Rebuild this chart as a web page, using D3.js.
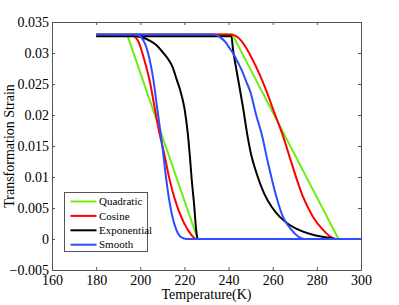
<!DOCTYPE html>
<html>
<head>
<meta charset="utf-8">
<script src="https://cdn.jsdelivr.net/npm/d3@7"></script>
<style>
  body { margin: 0; background: #fff; }
  svg text { font-family: 'Liberation Serif', 'Times New Roman', serif; fill: #000; }
  .axis path, .axis line { stroke: #555; }
  .curve { fill: none; stroke-width: 2; }
</style>
</head>
<body>
<svg id="chart" width="399" height="305"></svg>
<script>
// tick values / labels
const xTicks = [160, 180, 200, 220, 240, 260, 280, 300];
const yTicks = [-0.005, 0, 0.005, 0.01, 0.015, 0.02, 0.025, 0.03, 0.035];
const yTickLabels = ['\u22120.005', '0', '0.005', '0.01', '0.015', '0.02', '0.025', '0.03', '0.035'];

// series names + colours (legend order = draw order)
const seriesNames = ['Quadratic', 'Cosine', 'Exponential', 'Smooth'];
const seriesColors = ['#6cef0e', '#ff0000', '#000000', '#2d4cff'];

// [temperature, strain]; cooling and heating branch of each loop
const quadCool = [[194, 0.0330], [226, 0], [300, 0]];
const quadHeat = [[180, 0.0330], [241.7, 0.0330], [289.8, 0], [300, 0]];

const cosCool = [[195.8, 0.0330], [198.9, 0.0320], [201.9, 0.0288], [204.2, 0.0256], [206.5, 0.0212],
  [208.6, 0.0172], [210.7, 0.0140], [213.2, 0.0097], [215.5, 0.0066], [217.8, 0.0042],
  [221.5, 0.0015], [225.5, 0], [300, 0]];
const cosHeat = [[180, 0.0330], [240.5, 0.0330], [243, 0.0328], [245.7, 0.0320], [248, 0.0308],
  [250.5, 0.0292], [254, 0.0266], [257, 0.0240], [260.5, 0.0206], [264.3, 0.0170], [268.4, 0.0124],
  [273.6, 0.0069], [278.2, 0.0036], [282.7, 0.0015], [286, 0.0004], [288.8, 0], [300, 0]];

const expCool = [[198.1, 0.0327], [201, 0.0325], [204.2, 0.0320], [207.5, 0.0312], [210.2, 0.0301],
  [213.2, 0.0287], [214.7, 0.0277], [216.5, 0.0257], [218, 0.0241], [220, 0.0211], [221.5, 0.0171],
  [222.5, 0.0132], [223.3, 0.0096], [224.4, 0.0055], [225.3, 0.0015], [226, 0], [300, 0]];
const expHeat = [[180, 0.0327], [241.3, 0.0327], [242, 0.0306], [243.2, 0.0280], [244.7, 0.0250],
  [246.5, 0.0213], [248.4, 0.0170], [250.3, 0.0135], [252.5, 0.0108], [256.3, 0.0072],
  [259.5, 0.0052], [263.1, 0.0036], [267.5, 0.0023], [272.9, 0.0013], [279, 0.0006],
  [285.5, 0.0002], [288.5, 0], [300, 0]];

const smoothCool = [[198, 0.0330], [200.5, 0.0325], [202.5, 0.0312], [204.2, 0.0290], [205.8, 0.0260],
  [207.5, 0.0215], [209.2, 0.0171], [210.5, 0.0135], [211.7, 0.0098], [213, 0.0065],
  [214.3, 0.0040], [216.3, 0.0015], [218.5, 0.0003], [221, 0], [300, 0]];
const smoothHeat = [[180, 0.0330], [233, 0.0330], [235, 0.0328], [236.7, 0.0324], [238.5, 0.0318],
  [240.4, 0.0308], [242.3, 0.0298], [244.2, 0.0285], [246, 0.0272], [248, 0.0254], [250, 0.0236],
  [252.5, 0.0200], [254.8, 0.0172], [257.8, 0.0124], [261.6, 0.0069], [264.6, 0.0036],
  [268.4, 0.0015], [271.5, 0.0004], [274.5, 0], [300, 0]];

const branches = [
  [quadCool, quadHeat],
  [cosCool, cosHeat],
  [expCool, expHeat],
  [smoothCool, smoothHeat]
];

const margin = {top: 22, right: 38, bottom: 35, left: 52};
const width = 399 - margin.left - margin.right;
const height = 305 - margin.top - margin.bottom;

const svg = d3.select('#chart');
const g = svg.append('g')
  .attr('transform', `translate(${margin.left}, ${margin.top})`);

const x = d3.scaleLinear().domain([160, 300]).range([0, width]);
const y = d3.scaleLinear().domain([-0.005, 0.035]).range([height, 0]);

// axes, ticks pointing inwards on all four sides
g.append('g')
  .attr('class', 'axis')
  .attr('transform', `translate(0, ${height})`)
  .call(d3.axisBottom(x).tickValues(xTicks).tickSize(-3).tickSizeOuter(0).tickPadding(5).tickFormat(d3.format('d')));

g.append('g')
  .attr('class', 'axis')
  .call(d3.axisTop(x).tickValues(xTicks).tickSize(-3).tickSizeOuter(0).tickFormat(''));

g.append('g')
  .attr('class', 'axis')
  .call(d3.axisLeft(y).tickValues(yTicks).tickSize(-3).tickSizeOuter(0).tickPadding(3)
    .tickFormat((d, i) => yTickLabels[i]));

g.append('g')
  .attr('class', 'axis')
  .attr('transform', `translate(${width}, 0)`)
  .call(d3.axisRight(y).tickValues(yTicks).tickSize(-3).tickSizeOuter(0).tickFormat(''));

g.selectAll('.axis')
  .attr('font-family', null)
  .attr('font-size', 14);
g.selectAll('.axis text').attr('fill', '#000');

// curves
const lineSmooth = d3.line().x(d => x(d[0])).y(d => y(d[1])).curve(d3.curveMonotoneX);
const lineStraight = d3.line().x(d => x(d[0])).y(d => y(d[1]));

const plot = g.append('g');
branches.forEach((pair, i) => {
  const gen = i === 0 ? lineStraight : lineSmooth;
  pair.forEach(pts => {
    plot.append('path')
      .attr('class', 'curve')
      .attr('d', gen(pts))
      .attr('stroke', seriesColors[i]);
  });
});

// axis titles
g.append('text')
  .attr('x', width / 2)
  .attr('y', height + 28.5)
  .attr('text-anchor', 'middle')
  .attr('font-size', 14)
  .text('Temperature(K)');

g.append('text')
  .attr('transform', `translate(${-38}, ${height / 2}) rotate(-90)`)
  .attr('text-anchor', 'middle')
  .attr('font-size', 14)
  .text('Transformation Strain');

// legend
const legend = g.append('g')
  .attr('transform', `translate(12.5, 170.5)`);

legend.append('rect')
  .attr('width', 83)
  .attr('height', 59)
  .attr('fill', '#fff')
  .attr('stroke', '#555');

seriesNames.forEach((name, i) => {
  const row = legend.append('g').attr('transform', `translate(0, ${9 + i * 14.4})`);
  row.append('line')
    .attr('x1', 6).attr('x2', 32)
    .attr('stroke', seriesColors[i])
    .attr('stroke-width', 2);
  row.append('text')
    .attr('x', 34.5)
    .attr('dy', '0.33em')
    .attr('font-size', 11)
    .text(name);
});
</script>
</body>
</html>
